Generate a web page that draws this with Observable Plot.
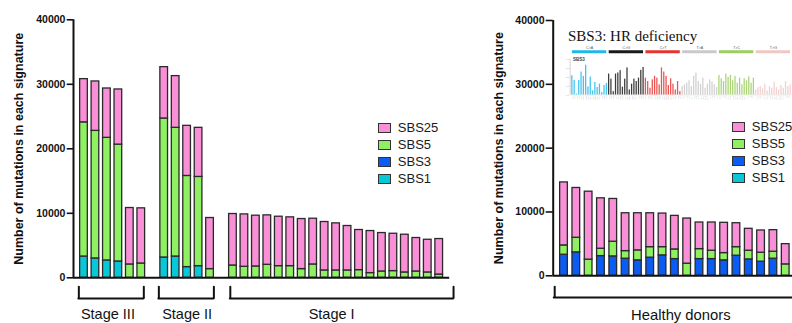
<!DOCTYPE html>
<html><head><meta charset="utf-8">
<script src="https://cdn.jsdelivr.net/npm/d3@7"></script>
<script src="https://cdn.jsdelivr.net/npm/@observablehq/plot@0.6"></script>
<style>
html,body{margin:0;padding:0;background:#fff;}
body{width:792px;height:323px;overflow:hidden;position:relative;font-family:"Liberation Sans",Arial,sans-serif;}
.panel{position:absolute;top:0;}
.legend{position:absolute;font-size:13px;color:#1a1a1a;}
.legend .row{position:absolute;left:0;white-space:nowrap;height:10px;}
.legend .sw{position:absolute;left:0;top:0;width:12.7px;height:10px;box-sizing:border-box;border:1.5px solid #333;}
.legend .lb{position:absolute;left:19.5px;top:-3px;line-height:16px;}
.title{position:absolute;font-family:"Liberation Serif","Times New Roman",serif;font-size:15px;line-height:15px;color:#111;white-space:nowrap;}
</style></head><body>
<div id="left" class="panel" style="left:0;width:480px;height:323px"></div>
<div id="right" class="panel" style="left:480px;width:320px;height:323px"></div>
<div id="legendL" class="legend" style="left:378.3px;top:123.3px"></div>
<div id="legendR" class="legend" style="left:732.3px;top:121.5px"></div>
<div class="title" style="left:568px;top:29px">SBS3: HR deficiency</div>
<div id="inset" class="panel" style="left:565px;top:44px;width:227px;height:60px"></div>
<script>
// ---------- data ----------
const seriesNames = ["SBS25", "SBS5", "SBS3", "SBS1"];
const seriesColors = ["#f98fd6", "#8ff061", "#0b5cf2", "#08c8d8"];
const stackOrder = ["SBS1", "SBS3", "SBS5", "SBS25"];
const yTicks = [0, 10000, 20000, 30000, 40000];
const yLabel = "Number of mutations in each signature";

const stageIIIIds = ["III-1", "III-2", "III-3", "III-4", "III-5", "III-6"];
const stageIIIds = ["II-1", "II-2", "II-3", "II-4", "II-5"];
const stageIIds = ["I-1", "I-2", "I-3", "I-4", "I-5", "I-6", "I-7", "I-8", "I-9", "I-10",
  "I-11", "I-12", "I-13", "I-14", "I-15", "I-16", "I-17", "I-18", "I-19"];
const groupLabels = ["Stage III", "Stage II", "Stage I"];

// left panel (order: Stage III, Stage II, Stage I)
const leftSBS1 = [3300, 3000, 2690, 2530, 0, 0, 3150, 3300, 1660, 1810, 0,
  0, 0, 0, 0, 0, 0, 0, 0, 0, 0, 0, 0, 0, 0, 0, 0, 0, 0, 0];
const leftSBS3 = [0, 0, 0, 0, 0, 0, 0, 0, 0, 0, 0,
  0, 0, 0, 0, 0, 0, 0, 0, 0, 0, 0, 0, 0, 0, 0, 0, 0, 0, 0];
const leftSBS5 = [20800, 19780, 19010, 18120, 2070, 2220, 21550, 19950, 14130, 13830, 1350,
  1910, 1710, 1760, 2020, 1810, 1810, 1350, 2070, 1140, 1140, 1140, 1190, 730, 980, 1040, 830, 980, 830, 510];
const leftSBS25 = [6700, 7660, 7650, 8550, 8750, 8550, 7960, 8020, 7770, 7610, 7920,
  7980, 8120, 7870, 7660, 7660, 7560, 7760, 7090, 7510, 7300, 6890, 6220, 6520, 5960, 5790, 5850, 5190, 5070, 5500];

// right panel: healthy donors
const donorIds = ["HD1", "HD2", "HD3", "HD4", "HD5", "HD6", "HD7", "HD8", "HD9", "HD10",
  "HD11", "HD12", "HD13", "HD14", "HD15", "HD16", "HD17", "HD18", "HD19"];
const donorLabel = "Healthy donors";
const rightSBS1 = [0, 0, 0, 0, 0, 0, 0, 0, 0, 0, 0, 0, 0, 0, 0, 0, 0, 0, 0];
const rightSBS3 = [3300, 3670, 0, 3090, 3040, 2680, 2420, 2840, 3200, 2620, 0, 2620, 2620, 2420, 3150, 2570, 2210, 2680, 0];
const rightSBS5 = [1460, 2290, 2530, 1150, 2300, 1190, 1560, 1650, 1290, 1510, 1900, 1560, 1310, 1140, 1340, 1360, 1410, 1090, 1790];
const rightSBS25 = [9870, 7800, 10650, 7900, 6700, 5930, 5820, 5310, 5260, 5260, 7070, 4170, 4420, 4740, 3750, 3430, 3480, 3380, 3170];

// inset: SBS3 signature spectrum (percent of SBS)
const insetTitle = "SBS3";
const mutTypes = ["C>A", "C>G", "C>T", "T>A", "T>C", "T>G"];
const mutColors = ["#1fb8ec", "#1a1a1a", "#e5342f", "#c9c9c9", "#9ccd5e", "#efc8c5"];
const flankBases = ["A", "C", "G", "T"];
const insetCA = [2.17, 1.64, 0.10, 1.64, 2.59, 2.10, 3.35, 0.91, 2.02, 0.46, 1.41, 0.84, 1.22, 0.27, 1.07, 1.30];
const insetCG = [2.36, 1.79, 0.38, 2.36, 2.48, 2.74, 0.88, 1.79, 3.05, 0.57, 1.22, 1.79, 1.52, 1.90, 2.78, 3.10];
const insetCT = [1.90, 1.52, 0.76, 1.71, 2.10, 1.90, 1.14, 3.05, 2.59, 2.10, 1.07, 1.83, 1.22, 0.57, 1.52, 0.38];
const insetTA = [0.95, 1.14, 1.33, 1.60, 0.95, 2.10, 2.48, 1.52, 1.22, 1.90, 0.76, 1.22, 1.71, 1.45, 1.14, 0.84];
const insetTC = [2.21, 1.83, 1.52, 2.36, 1.98, 2.21, 1.60, 2.10, 1.33, 1.90, 1.14, 1.83, 1.60, 2.06, 1.33, 1.90];
const insetTG = [0.57, 0.84, 0.95, 0.69, 1.22, 0.46, 0.95, 0.76, 1.45, 0.84, 0.57, 1.07, 0.76, 1.52, 0.95, 1.14];
const insetTicks = [0, 1, 2, 3, 4];

// ---------- build tables ----------
function buildTable(ids, cols) {
  const rows = [];
  ids.forEach((id, i) => stackOrder.forEach(s => {
    const v = cols[s][i];
    if (v > 0) rows.push({sample: id, series: s, value: v});
  }));
  return rows;
}
const leftIds = [...stageIIIIds, ...stageIIIds, ...stageIIds];
const leftTable = buildTable(leftIds, {SBS1: leftSBS1, SBS3: leftSBS3, SBS5: leftSBS5, SBS25: leftSBS25});
const rightTable = buildTable(donorIds, {SBS1: rightSBS1, SBS3: rightSBS3, SBS5: rightSBS5, SBS25: rightSBS25});
const leftDomain = [...stageIIIIds, "gap-1", ...stageIIIds, "gap-2", ...stageIIds];

const FONT = "Liberation Sans, Arial, Helvetica, sans-serif";
const INK = "#111";

function bracketMarks(b, o, half) {
  return [
    Plot.ruleY([b], {x1: "first", x2: "last", y: o.yH, insetLeft: o.extraL, insetRight: -o.extraR,
      stroke: INK, strokeWidth: 2, strokeLinecap: "round"}),
    Plot.ruleX([b], {x: "first", y1: o.yT, y2: o.yH, dx: -half + o.extraL, stroke: INK, strokeWidth: 2, strokeLinecap: "round"}),
    Plot.ruleX([b], {x: "last", y1: o.yT, y2: o.yH, dx: half + o.extraR, stroke: INK, strokeWidth: 2, strokeLinecap: "round"}),
    Plot.text([b], {x: "mid", y: o.yText, text: "label", dx: o.dxText, fontSize: 14.5, fill: INK})
  ];
}

// ---------- left panel ----------
{
  const L = {width: 480, height: 323, ml: 73, mr: 30.8, mt: 19.3, mb: 45.7, pi: 0.33, po: 0.58};
  const band = d3.scaleBand(leftDomain, [L.ml, L.width - L.mr]).paddingInner(L.pi).paddingOuter(L.po);
  const half = band.bandwidth() / 2;
  const axisDx = -(band(leftDomain[0]) + half - L.ml);
  const brackets = [
    {label: groupLabels[0], first: stageIIIIds[0], last: stageIIIIds[5], mid: stageIIIIds[2]},
    {label: groupLabels[1], first: stageIIIds[0], last: stageIIIds[4], mid: stageIIIds[2]},
    {label: groupLabels[2], first: stageIIds[0], last: stageIIds[18], mid: stageIIds[8]}
  ];
  const bOpts = [
    {yH: -3200, yT: -1450, yText: -5690, extraL: -1.3, extraR: -1.3, dxText: 1},
    {yH: -3200, yT: -1450, yText: -5690, extraL: -1.5, extraR: 0, dxText: 0},
    {yH: -3200, yT: -1450, yText: -5690, extraL: 1.2, extraR: 10.5, dxText: 7}
  ];
  const chart = Plot.plot({
    width: L.width, height: L.height,
    marginLeft: L.ml, marginRight: L.mr, marginTop: L.mt, marginBottom: L.mb,
    style: {fontFamily: FONT, color: INK, background: "transparent", overflow: "visible"},
    x: {type: "band", domain: leftDomain, paddingInner: L.pi, paddingOuter: L.po, round: false, axis: null},
    y: {domain: [0, 40000], axis: null},
    color: {domain: seriesNames, range: seriesColors},
    marks: [
      Plot.barY(leftTable, {x: "sample", y: "value", fill: "series", order: stackOrder, stroke: "#2a2a2a", strokeWidth: 1.3}),
      Plot.ruleY([0], {stroke: INK, strokeWidth: 2}),
      Plot.ruleX([leftDomain[0]], {y1: 0, y2: 40000, dx: axisDx, stroke: INK, strokeWidth: 2}),
      Plot.axisY({ticks: yTicks, tickFormat: d => String(d), tickSize: 6.3, tickPadding: 1.8, fontSize: 10.5,
        fontWeight: "bold", strokeWidth: 1.6, label: null}),
      Plot.text([yLabel], {frameAnchor: "left", textAnchor: "middle", lineAnchor: "middle", dx: -54.3, rotate: -90,
        fontSize: 12.5, fontWeight: "bold", fill: INK}),
      ...brackets.flatMap((b, i) => bracketMarks(b, bOpts[i], half))
    ]
  });
  document.getElementById("left").append(chart);
}

// ---------- right panel ----------
{
  const R = {width: 320, height: 323, ml: 72.7, mr: 4, mt: 20, mb: 47.7, pi: 0.375, po: 0.564};
  const band = d3.scaleBand(donorIds, [R.ml, R.width - R.mr]).paddingInner(R.pi).paddingOuter(R.po);
  const half = band.bandwidth() / 2;
  const axisDx = -(band(donorIds[0]) + half - R.ml);
  const donorBracket = [{label: donorLabel, first: donorIds[0], mid: donorIds[9]}];
  const chart = Plot.plot({
    width: R.width, height: R.height,
    marginLeft: R.ml, marginRight: R.mr, marginTop: R.mt, marginBottom: R.mb,
    style: {fontFamily: FONT, color: INK, background: "transparent", overflow: "visible"},
    x: {type: "band", domain: donorIds, paddingInner: R.pi, paddingOuter: R.po, round: false, axis: null},
    y: {domain: [0, 40000], axis: null},
    color: {domain: seriesNames, range: seriesColors},
    marks: [
      Plot.barY(rightTable, {x: "sample", y: "value", fill: "series", order: stackOrder, stroke: "#2a2a2a", strokeWidth: 1.3}),
      Plot.ruleY([0], {stroke: INK, strokeWidth: 2}),
      Plot.ruleX([donorIds[0]], {y1: 0, y2: 40000, dx: axisDx, stroke: INK, strokeWidth: 2}),
      Plot.axisY({ticks: yTicks, tickFormat: d => String(d), tickSize: 7, tickPadding: 1.7, fontSize: 10.5,
        fontWeight: "bold", strokeWidth: 1.6, label: null}),
      Plot.text([yLabel], {frameAnchor: "left", textAnchor: "middle", lineAnchor: "middle", dx: -54.2, rotate: -90,
        fontSize: 12.5, fontWeight: "bold", fill: INK}),
      // bracket for healthy donors
      Plot.ruleY(donorBracket, {y: -3400, insetLeft: 1, insetRight: -20, stroke: INK, strokeWidth: 2, strokeLinecap: "round"}),
      Plot.ruleX(donorBracket, {x: "first", y1: -1800, y2: -3400, dx: axisDx + 1.5, stroke: INK, strokeWidth: 2, strokeLinecap: "round"}),
      Plot.text(donorBracket, {x: "mid", y: -6110, text: "label", dx: 6, fontSize: 14.8, fill: INK})
    ]
  });
  document.getElementById("right").append(chart);
}

// ---------- legends ----------
function buildLegend(id, pitch) {
  const el = document.getElementById(id);
  seriesNames.forEach((s, i) => {
    const row = document.createElement("div");
    row.className = "row";
    row.style.top = (i * pitch) + "px";
    const sw = document.createElement("div");
    sw.className = "sw";
    sw.style.background = seriesColors[i];
    const lb = document.createElement("div");
    lb.className = "lb";
    lb.textContent = s;
    row.append(sw, lb);
    el.append(row);
  });
}
buildLegend("legendL", 16.8);
buildLegend("legendR", 17);

// ---------- inset ----------
{
  const vals = [insetCA, insetCG, insetCT, insetTA, insetTC, insetTG];
  const contexts = [];
  const table = [];
  const groups = [];
  mutTypes.forEach((t, ti) => {
    const ctxs = [];
    let k = 0;
    flankBases.forEach(b5 => flankBases.forEach(b3 => {
      const key = b5 + "[" + t + "]" + b3;
      ctxs.push(key);
      contexts.push(key);
      table.push({ctx: key, type: t, value: vals[ti][k], short: b5 + t[0] + b3});
      k++;
    }));
    groups.push({type: t, first: ctxs[0], last: ctxs[15], mid: ctxs[7]});
  });
  const I = {width: 227, height: 60, ml: 6, mr: 1, mt: 15, mb: 9.5, pi: 0.45, po: 0.1};
  const band = d3.scaleBand(contexts, [I.ml, I.width - I.mr]).paddingInner(I.pi).paddingOuter(I.po);
  const half = band.bandwidth() / 2;
  const step = band.step();
  const axisDx = -(band(contexts[0]) + half - I.ml) - 1.3;
  const chart = Plot.plot({
    width: I.width, height: I.height,
    marginLeft: I.ml, marginRight: I.mr, marginTop: I.mt, marginBottom: I.mb,
    style: {fontFamily: FONT, color: "#333", background: "transparent", overflow: "visible"},
    x: {type: "band", domain: contexts, paddingInner: I.pi, paddingOuter: I.po, round: false, axis: null},
    y: {domain: [0, 4], axis: null},
    color: {domain: mutTypes, range: mutColors},
    marks: [
      Plot.ruleY([0], {stroke: "#d8d8d8", strokeWidth: 0.6}),
      Plot.barY(table, {x: "ctx", y: "value", fill: "type", fillOpacity: 0.85}),
      Plot.ruleY(groups, {x1: "first", x2: "last", y: 4.87, stroke: "type", strokeWidth: 3, insetLeft: 0.7, insetRight: 0.7}),
      Plot.text(groups, {x: "mid", y: 5.27, text: "type", dx: step / 2, fontSize: 3.6, fill: "#555"}),
      Plot.ruleX([contexts[0]], {y1: 0, y2: 4, dx: axisDx, stroke: "#bbb", strokeWidth: 0.6}),
      Plot.axisY({ticks: insetTicks, tickFormat: d => d + "%", tickSize: 1.2, tickPadding: 0.4, fontSize: 1.8,
        fill: "#aaa", stroke: "#bbb", strokeWidth: 0.5, label: null, dx: -1.3}),
      Plot.text([insetTitle], {frameAnchor: "top-left", dx: 1.5, dy: -1.5, fontSize: 4.5, fontWeight: "bold", fill: "#444", textAnchor: "start"}),
      Plot.text(table, {x: "ctx", y: 0, text: "short", dy: 1, rotate: -90, textAnchor: "end", fontSize: 1.7, fill: "#aab6c4"})
    ]
  });
  document.getElementById("inset").append(chart);
}
</script>
</body></html>
